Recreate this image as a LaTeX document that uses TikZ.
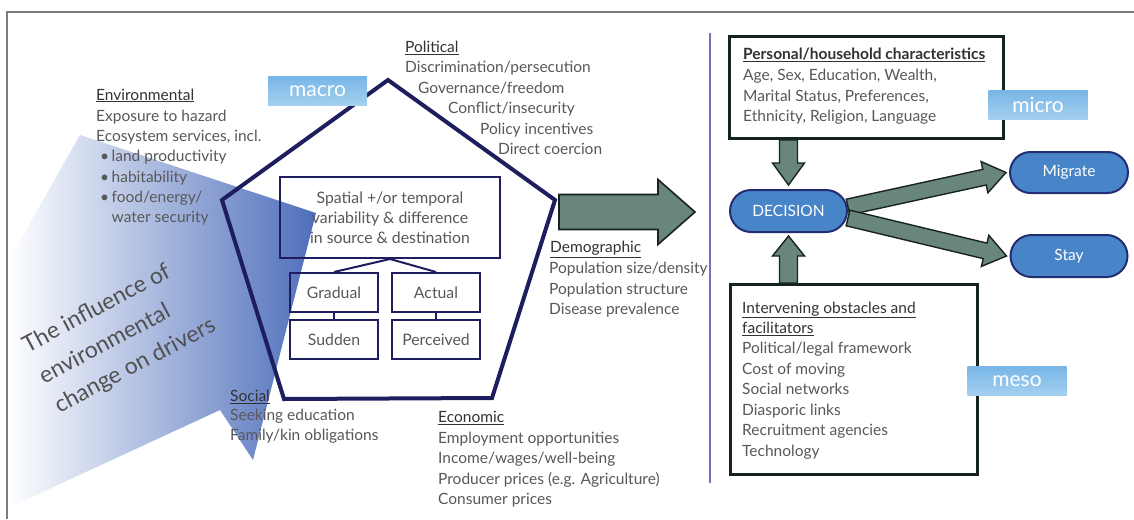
\documentclass[tikz,border=0pt]{standalone}
\usepackage{fontspec}
\setmainfont{Lato}
\usetikzlibrary{calc,shapes.misc}

\definecolor{txt}{RGB}{88,88,88}
\definecolor{head}{RGB}{50,50,50}
\definecolor{navy}{RGB}{30,30,95}
\definecolor{inflblue}{RGB}{78,110,188}
\definecolor{levelblue}{RGB}{120,182,230}
\definecolor{levellight}{RGB}{165,208,240}
\definecolor{pillfill}{RGB}{72,132,200}
\definecolor{pillline}{RGB}{35,45,115}
\definecolor{arrfill}{RGB}{104,134,121}
\definecolor{arrline}{RGB}{25,35,30}
\definecolor{boxline}{RGB}{20,35,28}
\definecolor{divider}{RGB}{115,115,185}
\definecolor{framegray}{RGB}{125,125,125}

% fat block arrow: [style]{start}{tip}{shaft half width}{head half width}{head length}
\newcommand{\fatarrow}[6][]{%
  \coordinate (fah) at ($(#3)!#6!(#2)$);
  \filldraw[#1] ($(#2)!#4!90:(#3)$) -- ($(fah)!#4!-90:(#2)$) -- ($(fah)!#5!-90:(#2)$)
    -- (#3) -- ($(fah)!#5!90:(#2)$) -- ($(fah)!#4!90:(#2)$) -- ($(#2)!#4!-90:(#3)$) -- cycle;
}

\tikzset{
  body/.style={font=\fontsize{15.5}{20}\selectfont, text=txt, inner sep=0pt, anchor=base west},
  heading/.style={body, text=head},
  pentline/.style={draw=navy, line width=4pt, line join=miter},
  smallbox/.style={draw=navy, line width=2pt, minimum width=88pt, minimum height=39pt,
    inner sep=0pt, font=\fontsize{15.8}{18}\selectfont, text=txt},
  level/.style={minimum width=99pt, minimum height=29pt, inner sep=0pt,
    top color=levelblue, bottom color=levellight, text=white,
    font=\fontsize{21}{21}\selectfont},
  pill/.style={rounded rectangle, draw=pillline, line width=2pt, fill=pillfill,
    text=white, inner sep=0pt, font=\fontsize{15.5}{16}\selectfont},
  charbox/.style={draw=boxline, line width=3pt, inner sep=0pt, anchor=north west},
  greenarrow/.style={fill=arrfill, draw=arrline, line width=1.6pt, line join=miter},
  influence/.style={rotate=28, anchor=west, inner sep=0pt, text=head!85,
    font=\fontsize{23}{23}\selectfont},
}

\begin{document}
\begin{tikzpicture}[x=1pt,y=-1pt]
\useasboundingbox (0,0) rectangle (1134,519);
\fill[white] (0,0) rectangle (1134,519);

% outer frame
\coordinate (frtr) at (1134,12);
\coordinate (frtl) at (7,12);
\coordinate (frbl) at (7,519);
\draw[framegray, line width=1.5pt] (frtr) -- (frtl) -- (frbl);

% influence of environmental change (shaded block arrow)
\shade[left color=white, middle color=inflblue!62, right color=inflblue]
  (80,135) -- (316,213) -- (253,460) -- (220,410) -- (8,508) -- (8,262) -- cycle;
\node[influence] (infl1) at (23.6,346) {The influence of};
\node[influence] (infl2) at (40,377) {environmental};
\node[influence] (infl3) at (56.4,408) {change on drivers};

% pentagon of drivers
\coordinate (pt) at (388,80);
\coordinate (pr) at (555,200);
\coordinate (pbr) at (492,398);
\coordinate (pbl) at (284,399);
\coordinate (pl) at (222,200);
\draw[pentline] (pt) -- (pr) -- (pbr) -- (pbl) -- (pl) -- cycle;

% inner boxes
\node[draw=navy, line width=2pt, minimum width=220pt, minimum height=81pt, inner sep=0pt,
  align=center, text=txt, font=\fontsize{15.8}{20}\selectfont] (sp) at (390,217.5)
  {Spatial +/or temporal\\variability \& difference\\in source \& destination};
\node[smallbox] (grad) at (334,292.5) {Gradual};
\node[smallbox] (act) at (436,292.5) {Actual};
\node[smallbox] (sud) at (334,339.5) {Sudden};
\node[smallbox] (perc) at (436,339.5) {Perceived};
\draw[navy, line width=2pt] (sp.south) -- (grad.north);
\draw[navy, line width=2pt] (sp.south) -- (act.north);
\draw[navy, line width=2pt] (grad) -- (sud);
\draw[navy, line width=2pt] (act) -- (perc);

% scale labels
\node[level] (macro) at (317.5,91) {macro};

% environmental drivers
\node[heading] (envh) at (96,100) {\underline{Environmental}};
\node[body] (env1) at (96,121.5) {Exposure to hazard};
\node[body] (env2) at (96,141.5) {Ecosystem services, incl.};
\node[body] (envb1) at (100,161.5) {•};
\node[body] (env3) at (111.5,161.5) {land productivity};
\node[body] (envb2) at (100,182) {•};
\node[body] (env4) at (111.5,182) {habitability};
\node[body] (envb3) at (100,202) {•};
\node[body] (env5) at (111.5,202) {food/energy/};
\node[body] (env6) at (111.5,222.5) {water security};

% political drivers
\node[heading] (polh) at (405,52.5) {\underline{Political}};
\node[body] (pol1) at (405,72.7) {Discrimination/persecution};
\node[body] (pol2) at (418,93.2) {Governance/freedom};
\node[body] (pol3) at (448,113.4) {Conflict/insecurity};
\node[body] (pol4) at (480,134) {Policy incentives};
\node[body] (pol5) at (498,154.2) {Direct coercion};

% demographic drivers
\node[heading] (demh) at (550,252.7) {\underline{Demographic}};
\node[body] (dem1) at (549,273.3) {Population size/density};
\node[body] (dem2) at (549,294) {Population structure};
\node[body] (dem3) at (549,314.3) {Disease prevalence};

% economic drivers
\node[heading] (ecoh) at (438,422.7) {\underline{Economic}};
\node[body] (eco1) at (438,443.3) {Employment opportunities};
\node[body] (eco2) at (438,463.5) {Income/wages/well-being};
\node[body] (eco3) at (438,484) {Producer prices (e.g. Agriculture)};
\node[body] (eco4) at (438,504.2) {Consumer prices};

% social drivers
\node[heading] (soch) at (230,401.5) {\underline{Social}};
\node[body] (soc1) at (230,420.5) {Seeking education};
\node[body] (soc2) at (230,440) {Family/kin obligations};

% arrow from drivers to decision side
\coordinate (ga) at (559,212);
\coordinate (gb) at (695,212);
\fatarrow[greenarrow]{ga}{gb}{17.5pt}{32.5pt}{37pt}

% divider
\coordinate (dvt) at (710,33);
\coordinate (dvb) at (710,483);
\draw[divider, line width=1.3pt] (dvt) -- (dvb);

% personal / household characteristics
\node[charbox, minimum width=274pt, minimum height=102pt] (pers) at (728,35) {};
\node[heading, font=\bfseries\fontsize{15.5}{20}\selectfont] (persh) at (743,59.3)
  {\underline{Personal/household characteristics}};
\node[body] (pers1) at (743,80.7) {Age, Sex, Education, Wealth,};
\node[body] (pers2) at (743,101) {Marital Status, Preferences,};
\node[body] (pers3) at (743,121.7) {Ethnicity, Religion, Language};
\node[level] (micro) at (1038,105) {micro};

% intervening obstacles and facilitators
\node[charbox, minimum width=247pt, minimum height=190pt] (interv) at (729,283) {};
\node[heading] (inth1) at (742,313.3) {\underline{Intervening obstacles and}};
\node[heading] (inth2) at (742,333.5) {\underline{facilitators}};
\node[body] (int1) at (742,353.5) {Political/legal framework};
\node[body] (int2) at (742,374) {Cost of moving};
\node[body] (int3) at (742,394.2) {Social networks};
\node[body] (int4) at (742,415) {Diasporic links};
\node[body] (int5) at (742,435.2) {Recruitment agencies};
\node[body] (int6) at (742,456) {Technology};
\node[level] (meso) at (1017,381) {meso};

% decision and outcomes
\node[pill, minimum width=117pt, minimum height=42pt] (dec) at (788.5,211) {DECISION};
\node[pill, minimum width=118pt, minimum height=41pt] (mig) at (1069,172.5) {Migrate};
\node[pill, minimum width=117pt, minimum height=42pt] (stay) at (1069,256) {Stay};

% block arrows into and out of the decision
\coordinate (pa) at (pers.south -| dec.north);
\coordinate (pb) at ($(dec.north)+(0,-4)$);
\fatarrow[greenarrow, line width=1.4pt]{pa}{pb}{9pt}{16pt}{22pt}
\coordinate (ia) at (interv.north -| dec.south);
\coordinate (ib) at ($(dec.south)+(0,3)$);
\fatarrow[greenarrow, line width=1.4pt]{ia}{ib}{9pt}{16pt}{20pt}
\coordinate (ma) at ($(dec.east)+(0,-4)$);
\coordinate (mb) at ($(mig.west)+(-3,0)$);
\fatarrow[greenarrow, line width=1.4pt]{ma}{mb}{8pt}{16pt}{22pt}
\coordinate (sa) at ($(dec.east)+(0,7)$);
\coordinate (sb) at ($(stay.west)+(-3,0)$);
\fatarrow[greenarrow, line width=1.4pt]{sa}{sb}{8pt}{16pt}{22pt}
\end{tikzpicture}
\end{document}
